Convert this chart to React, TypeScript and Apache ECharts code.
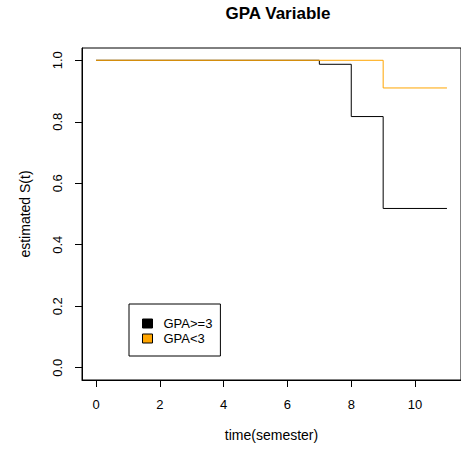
import React, { useEffect, useRef } from "react";
import * as echarts from "echarts";

const highTimes = [0, 7, 8, 9, 11];
const highSurv = [1, 0.987, 0.817, 0.518, 0.518];
const lowTimes = [0, 9, 11];
const lowSurv = [1, 0.91, 0.91];
const xTicks = [0, 2, 4, 6, 8, 10];
const yTicks = [0, 0.2, 0.4, 0.6, 0.8, 1.0];
const seriesNames = ["GPA>=3", "GPA<3"];
const seriesColors = ["#000000", "#FFA500"];

const FONT = "Liberation Sans, Arial, Helvetica, sans-serif";

export default function App() {
  const ref = useRef<HTMLDivElement>(null);
  useEffect(() => {
    if (!ref.current) return;
    const chart = echarts.init(ref.current, undefined, { renderer: "svg" });
    const toPairs = (t: number[], s: number[]) => t.map((v, i) => [v, s[i]]);
    chart.setOption({
      animation: false,
      backgroundColor: "#ffffff",
      textStyle: { fontFamily: FONT },
      title: {
        text: "GPA Variable",
        left: 273,
        top: 0,
        textAlign: "center",
        textStyle: { fontSize: 17, fontWeight: "bold", color: "#000", fontFamily: FONT },
      },
      grid: {
        left: 82,
        top: 48,
        width: 383,
        height: 332,
        show: true,
        borderColor: "#000",
        borderWidth: 1,
        backgroundColor: "transparent",
        containLabel: false,
      },
      xAxis: {
        type: "value",
        min: -0.44,
        max: 11.44,
        position: "bottom",
        name: "time(semester)",
        nameLocation: "middle",
        nameGap: 48,
        nameTextStyle: { fontSize: 14, color: "#000", fontFamily: FONT },
        axisLine: { show: true, onZero: false, lineStyle: { color: "#000", width: 1 } },
        splitLine: { show: false },
        axisTick: { show: true, inside: false, length: 7, customValues: xTicks, lineStyle: { color: "#000", width: 1 } },
        axisLabel: { customValues: xTicks, margin: 18, fontSize: 13, color: "#000", fontFamily: FONT },
      },
      yAxis: {
        type: "value",
        min: -0.04,
        max: 1.04,
        position: "left",
        name: "estimated S(t)",
        nameLocation: "middle",
        nameGap: 50,
        nameRotate: 90,
        nameTextStyle: { fontSize: 14, color: "#000", fontFamily: FONT },
        axisLine: { show: true, onZero: false, lineStyle: { color: "#000", width: 1 } },
        splitLine: { show: false },
        axisTick: { show: true, inside: false, length: 7, customValues: yTicks, lineStyle: { color: "#000", width: 1 } },
        axisLabel: {
          customValues: yTicks,
          rotate: 90,
          margin: 18,
          fontSize: 13,
          color: "#000",
          fontFamily: FONT,
          formatter: (v: number) => v.toFixed(1),
        },
      },
      legend: {
        orient: "vertical",
        left: 129,
        top: 304,
        borderColor: "#000",
        borderWidth: 1,
        padding: [13, 8, 11, 13],
        itemWidth: 10,
        itemHeight: 9,
        itemGap: 2,
        icon: "rect",
        itemStyle: { borderColor: "#000", borderWidth: 1 },
        textStyle: { fontSize: 13, color: "#000", fontFamily: FONT, padding: [0, 0, 0, 6] },
        data: seriesNames,
      },
      series: [
        {
          name: seriesNames[0],
          type: "line",
          step: "end",
          data: toPairs(highTimes, highSurv),
          showSymbol: false,
          color: seriesColors[0],
          itemStyle: { color: seriesColors[0] },
          lineStyle: { color: seriesColors[0], width: 1 },
        },
        {
          name: seriesNames[1],
          type: "line",
          step: "end",
          data: toPairs(lowTimes, lowSurv),
          showSymbol: false,
          color: seriesColors[1],
          itemStyle: { color: seriesColors[1] },
          lineStyle: { color: seriesColors[1], width: 1 },
        },
      ],
    });
    return () => chart.dispose();
  }, []);
  return (
    <div
      ref={ref}
      style={{ position: "fixed", left: 0, top: 0, width: 461, height: 451, background: "#fff" }}
    />
  );
}
